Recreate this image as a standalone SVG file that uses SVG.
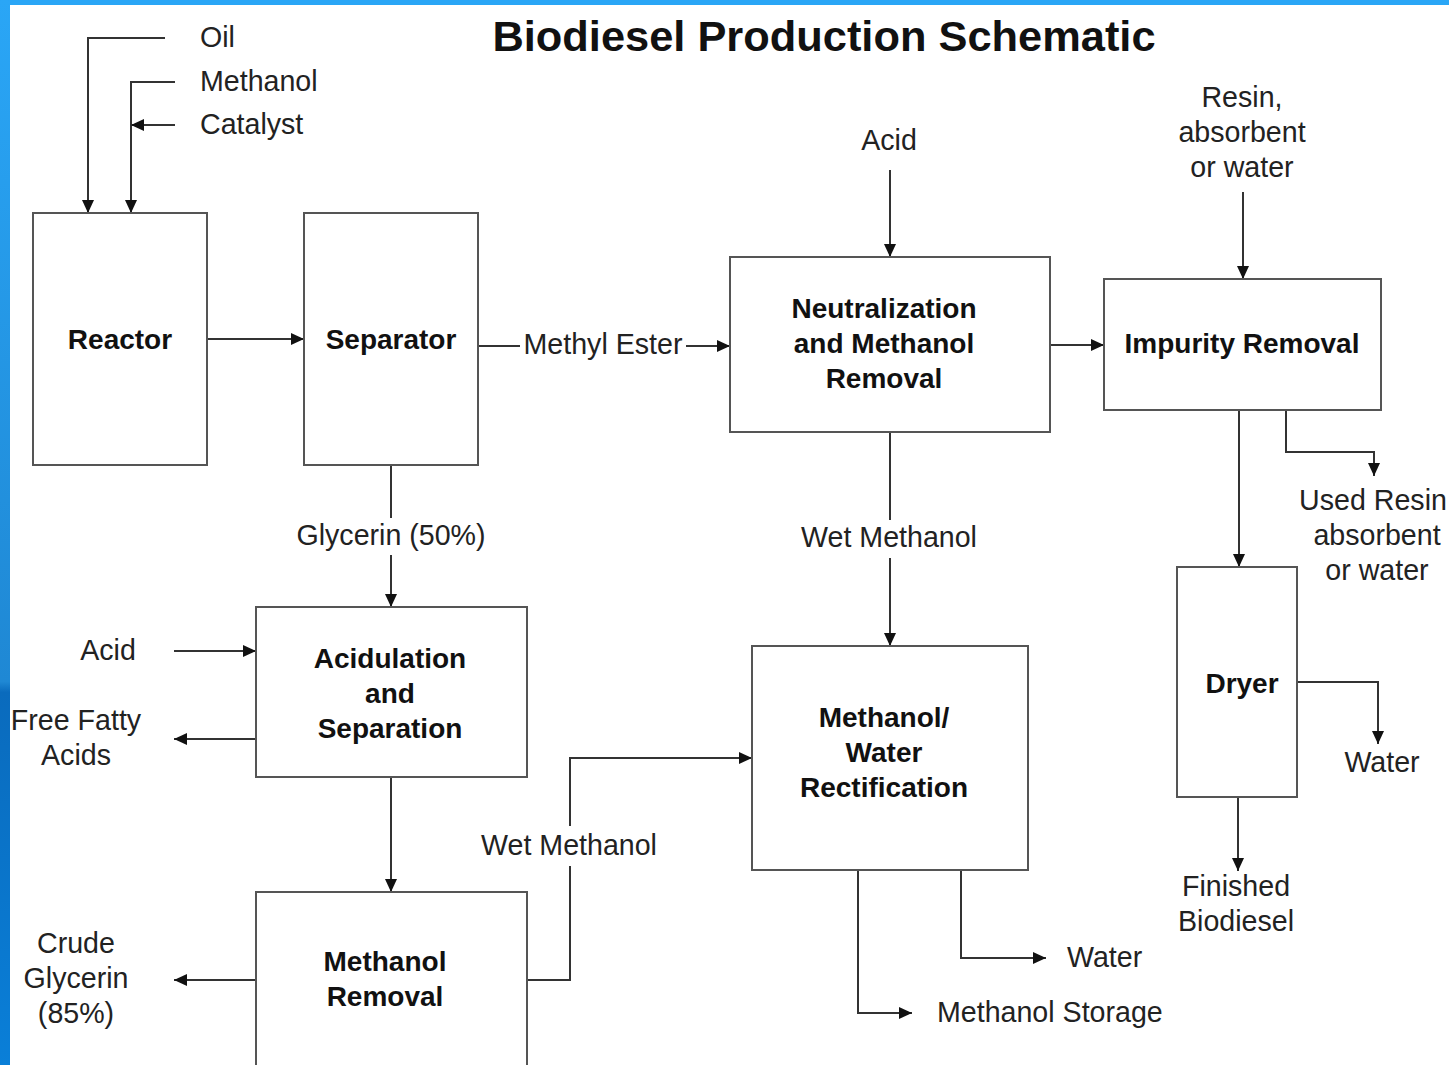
<svg xmlns="http://www.w3.org/2000/svg" width="1449" height="1065" viewBox="0 0 1449 1065">
<defs>
<linearGradient id="lb" x1="0" y1="0" x2="0" y2="1">
<stop offset="0" stop-color="#2aa6f6"/>
<stop offset="0.64" stop-color="#1f88d4"/>
<stop offset="0.65" stop-color="#0a6bbd"/>
<stop offset="1" stop-color="#0a7fd8"/>
</linearGradient>
<marker id="ah" markerUnits="userSpaceOnUse" markerWidth="14" markerHeight="12" refX="13" refY="6" orient="auto">
<path d="M0,0 L13,6 L0,12 Z" fill="#111"/>
</marker>
<style>
.box{fill:#fff;stroke:#555;stroke-width:2}
.c{fill:none;stroke:#333;stroke-width:2}
.a{marker-end:url(#ah)}
text{font-family:"Liberation Sans",Arial,sans-serif;fill:#222;font-size:28.6px}
.b{font-weight:bold;fill:#111;font-size:28px}
.m{text-anchor:middle}
</style>
</defs>
<rect x="0" y="0" width="1449" height="1065" fill="#fff"/>
<rect x="0" y="0" width="1449" height="5" fill="#2aa6f6"/>
<rect x="0" y="0" width="10" height="1065" fill="url(#lb)"/>
<text x="824" y="51" class="b m" style="font-size:43.4px">Biodiesel Production Schematic</text>

<g id="connectors">
<path class="c a" d="M165,38 H88 V213"/>
<path class="c a" d="M175,82 H131 V213"/>
<path class="c a" d="M175,125 H131"/>
<path class="c a" d="M207,339 H304"/>
<path class="c" d="M478,346 H520"/>
<path class="c a" d="M686,346 H730"/>
<path class="c a" d="M890,170 V257"/>
<path class="c a" d="M1050,345 H1104"/>
<path class="c a" d="M1243,192 V279"/>
<path class="c a" d="M1239,410 V567"/>
<path class="c a" d="M1286,410 V452 H1374 V476"/>
<path class="c a" d="M1297,682 H1378 V744"/>
<path class="c a" d="M1238,797 V871"/>
<path class="c" d="M391,465 V518"/>
<path class="c a" d="M391,555 V607"/>
<path class="c" d="M890,432 V520"/>
<path class="c a" d="M890,558 V646"/>
<path class="c a" d="M174,651 H256"/>
<path class="c a" d="M256,739 H174"/>
<path class="c a" d="M391,777 V892"/>
<path class="c a" d="M256,980 H174"/>
<path class="c" d="M527,980 H570 V866"/>
<path class="c a" d="M570,826 V758 H752"/>
<path class="c a" d="M858,870 V1013 H912"/>
<path class="c a" d="M961,870 V958 H1046"/>
</g>

<g id="reactor">
<rect class="box" x="33" y="213" width="174" height="252"/>
<text x="120" y="349" class="b m">Reactor</text>
</g>
<g id="separator">
<rect class="box" x="304" y="213" width="174" height="252"/>
<text x="391" y="349" class="b m">Separator</text>
</g>
<g id="neutralization">
<rect class="box" x="730" y="257" width="320" height="175"/>
<text x="884" y="318" class="b m">Neutralization</text>
<text x="884" y="353" class="b m">and Methanol</text>
<text x="884" y="388" class="b m">Removal</text>
</g>
<g id="impurity">
<rect class="box" x="1104" y="279" width="277" height="131"/>
<text x="1242" y="353" class="b m">Impurity Removal</text>
</g>
<g id="acidulation">
<rect class="box" x="256" y="607" width="271" height="170"/>
<text x="390" y="668" class="b m">Acidulation</text>
<text x="390" y="703" class="b m">and</text>
<text x="390" y="738" class="b m">Separation</text>
</g>
<g id="rectification">
<rect class="box" x="752" y="646" width="276" height="224"/>
<text x="884" y="727" class="b m">Methanol/</text>
<text x="884" y="762" class="b m">Water</text>
<text x="884" y="797" class="b m">Rectification</text>
</g>
<g id="dryer">
<rect class="box" x="1177" y="567" width="120" height="230"/>
<text x="1242" y="693" class="b m">Dryer</text>
</g>
<g id="methanol-removal">
<rect class="box" x="256" y="892" width="271" height="190"/>
<text x="385" y="971" class="b m">Methanol</text>
<text x="385" y="1006" class="b m">Removal</text>
</g>

<g id="labels">
<text x="200" y="47">Oil</text>
<text x="200" y="91">Methanol</text>
<text x="200" y="134">Catalyst</text>
<text x="603" y="354" class="m">Methyl Ester</text>
<text x="889" y="150" class="m">Acid</text>
<text x="1242" y="107" class="m">Resin,</text>
<text x="1242" y="142" class="m">absorbent</text>
<text x="1242" y="177" class="m">or water</text>
<text x="1373" y="510" class="m">Used Resin</text>
<text x="1377" y="545" class="m">absorbent</text>
<text x="1377" y="580" class="m">or water</text>
<text x="391" y="545" class="m">Glycerin (50%)</text>
<text x="889" y="547" class="m">Wet Methanol</text>
<text x="108" y="660" class="m">Acid</text>
<text x="76" y="730" class="m">Free Fatty</text>
<text x="76" y="765" class="m">Acids</text>
<text x="1382" y="772" class="m">Water</text>
<text x="1236" y="896" class="m">Finished</text>
<text x="1236" y="931" class="m">Biodiesel</text>
<text x="569" y="855" class="m">Wet Methanol</text>
<text x="76" y="953" class="m">Crude</text>
<text x="76" y="988" class="m">Glycerin</text>
<text x="76" y="1023" class="m">(85%)</text>
<text x="1067" y="967">Water</text>
<text x="937" y="1022">Methanol Storage</text>
</g>
</svg>
